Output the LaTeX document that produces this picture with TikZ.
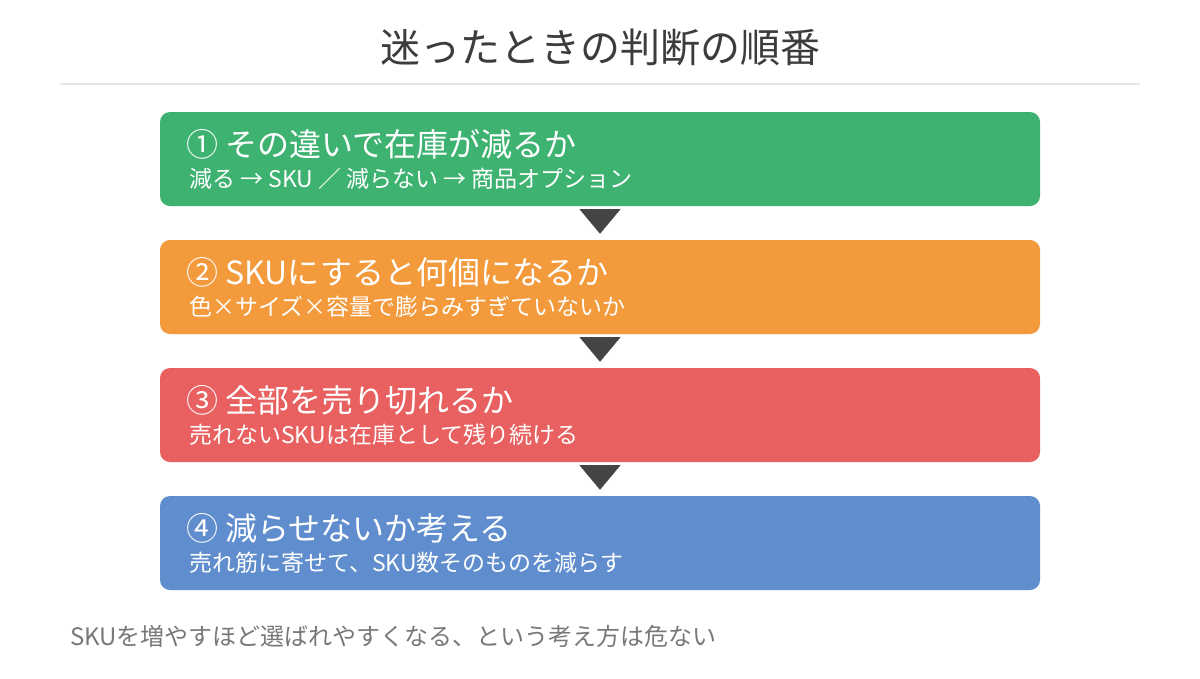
\documentclass[tikz,border=0pt]{standalone}
\usepackage{fontspec}
\usepackage{tikz}
\usetikzlibrary{calc}
\newfontfamily\jpfont{Noto Sans CJK JP}

\definecolor{stepgreen}{RGB}{62,179,113}
\definecolor{steporange}{RGB}{243,154,60}
\definecolor{stepred}{RGB}{232,96,96}
\definecolor{stepblue}{RGB}{95,141,206}
\definecolor{titlegray}{RGB}{60,60,60}
\definecolor{notegray}{RGB}{120,120,120}
\definecolor{rulegray}{RGB}{230,230,230}
\definecolor{tridark}{RGB}{68,68,68}

\tikzset{
  stepbox/.style={draw=none, rounded corners=10pt, minimum width=880pt, minimum height=94pt, inner sep=0pt},
  headtext/.style={anchor=base west, inner sep=0pt, text=white, font=\jpfont\fontsize{32}{38}\selectfont},
  subtext/.style={anchor=base west, inner sep=0pt, text=white, font=\jpfont\fontsize{23}{27}\selectfont},
  downtri/.style={fill=tridark}
}

\begin{document}
\begin{tikzpicture}[x=1pt,y=1pt,yscale=-1,xscale=1]
\path[use as bounding box, fill=white] (0,0) rectangle (1200,678);

% Text Node
\node [anchor=base, inner sep=0pt, text=titlegray, font=\jpfont\fontsize{40}{48}\selectfont] (title) at (600,62) {迷ったときの判断の順番};
%Shape: Line
\draw [rulegray, line width=2.5pt] (60,84) -- (1140,84);

%Shape: Rounded Rect
\node [stepbox, fill=stepgreen] (step1) at (600,159) {};
%Shape: Rounded Rect
\node [stepbox, fill=steporange] (step2) at (600,287) {};
%Shape: Rounded Rect
\node [stepbox, fill=stepred] (step3) at (600,415) {};
%Shape: Rounded Rect
\node [stepbox, fill=stepblue] (step4) at (600,543) {};

% Text Node
\node [headtext] (head1) at (186,156) {① その違いで在庫が減るか};
\node [subtext] (sub1) at (189,187) {減る → SKU ／ 減らない → 商品オプション};
% Text Node
\node [headtext] (head2) at (186,284) {② SKUにすると何個になるか};
\node [subtext] (sub2) at (189,315) {色×サイズ×容量で膨らみすぎていないか};
% Text Node
\node [headtext] (head3) at (186,412) {③ 全部を売り切れるか};
\node [subtext] (sub3) at (189,443) {売れないSKUは在庫として残り続ける};
% Text Node
\node [headtext] (head4) at (186,540) {④ 減らせないか考える};
\node [subtext] (sub4) at (189,571) {売れ筋に寄せて、SKU数そのものを減らす};

%Shape: Triangle
\foreach \a/\b in {step1/step2, step2/step3, step3/step4}{
  \fill [downtri] ($(\a.south)+(-20.5,3)$) -- ($(\a.south)+(20.5,3)$) -- ($(\b.north)+(0,-6)$) -- cycle;
}

% Text Node
\node [anchor=base west, inner sep=0pt, text=notegray, font=\jpfont\fontsize{24}{28}\selectfont] (note) at (70,645) {SKUを増やすほど選ばれやすくなる、という考え方は危ない};

\end{tikzpicture}
\end{document}
